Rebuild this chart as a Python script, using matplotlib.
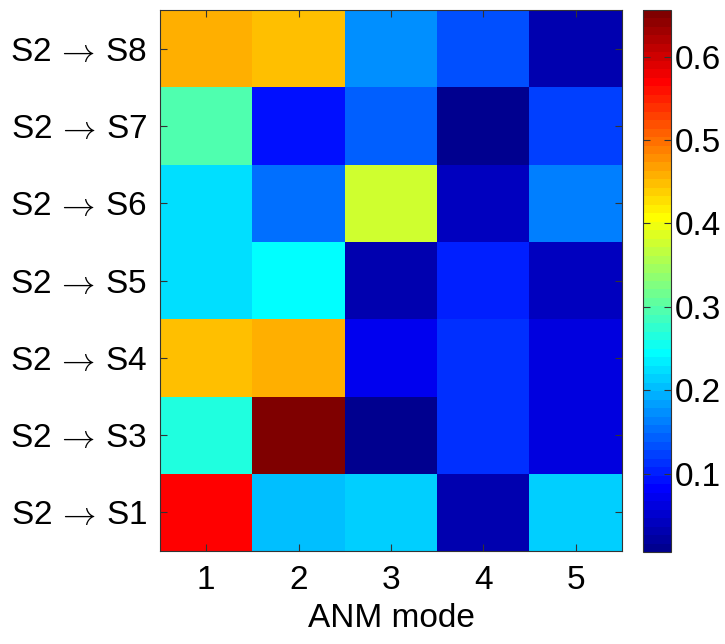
import numpy as np
import matplotlib
matplotlib.use("Agg")
import matplotlib.pyplot as plt
from matplotlib.colors import ListedColormap

plt.rcParams['font.family'] = ['Liberation Sans', 'DejaVu Sans']
plt.rcParams['mathtext.fontset'] = 'cm'

modes = [1, 2, 3, 4, 5]
transitions = ["S2$\\,\\rightarrow\\,$S1", "S2$\\,\\rightarrow\\,$S3", "S2$\\,\\rightarrow\\,$S4",
               "S2$\\,\\rightarrow\\,$S5", "S2$\\,\\rightarrow\\,$S6", "S2$\\,\\rightarrow\\,$S7",
               "S2$\\,\\rightarrow\\,$S8"]

# one row per transition (bottom to top), one column per ANM mode
s2_s1 = [0.569, 0.208, 0.218, 0.032, 0.218]
s2_s3 = [0.268, 0.656, 0.006, 0.110, 0.060]
s2_s4 = [0.452, 0.462, 0.077, 0.117, 0.057]
s2_s5 = [0.220, 0.248, 0.032, 0.106, 0.038]
s2_s6 = [0.220, 0.157, 0.376, 0.045, 0.160]
s2_s7 = [0.300, 0.093, 0.144, 0.013, 0.120]
s2_s8 = [0.462, 0.452, 0.176, 0.137, 0.032]

values = np.array([s2_s1, s2_s3, s2_s4, s2_s5, s2_s6, s2_s7, s2_s8])
cbar_ticks = [0.1, 0.2, 0.3, 0.4, 0.5, 0.6]


def matlab_jet(m=64):
    """Classic 64-level jet palette (piecewise-linear, as in MATLAB)."""
    n = int(np.ceil(m / 4))
    u = np.concatenate([np.arange(1, n + 1) / n, np.ones(n - 1),
                        np.arange(n, 0, -1) / n])
    g = int(np.ceil(n / 2)) - (1 if m % 4 == 1 else 0) + np.arange(1, len(u) + 1)
    r = g + n
    b = g - n
    rgb = np.zeros((m, 3))
    for ch, idx in enumerate([r, g, b]):
        keep = (idx >= 1) & (idx <= m)
        rgb[idx[keep] - 1, ch] = u[keep]
    return ListedColormap(rgb, name='jet64')


fig = plt.figure(figsize=(7.25, 6.44), dpi=100)
ax = fig.add_axes([160/725, 93/644, 462/725, 541/644])
cax = fig.add_axes([643/725, 92/644, 28/725, 542/644])

im = ax.imshow(values, cmap=matlab_jet(64), origin='lower', aspect='auto',
               interpolation='nearest',
               extent=[0.5, len(modes) + 0.5, 0.5, len(transitions) + 0.5])

fs = 24
ax.set_xticks(modes)
ax.set_xticklabels([str(m) for m in modes], fontsize=fs)
ax.set_yticks(np.arange(1, len(transitions) + 1))
ax.set_yticklabels(transitions, fontsize=fs)
ax.tick_params(direction='in', top=True, right=True, length=5, width=0.8,
               color='#333333')
ax.tick_params(axis='x', pad=10)
ax.tick_params(axis='y', pad=9)
ax.set_xlabel("ANM mode", fontsize=fs, labelpad=5)
for s in ax.spines.values():
    s.set_linewidth(0.8)
    s.set_color('#333333')

cb = fig.colorbar(im, cax=cax, ticks=cbar_ticks)
cb.ax.tick_params(direction='in', left=True, right=True, length=5, width=0.8,
                  labelsize=fs, pad=3, color='#333333')
cb.ax.set_yticklabels([f"{t:.1f}" for t in cbar_ticks])
cb.outline.set_linewidth(0.8)
cb.outline.set_edgecolor('#333333')

fig.savefig("out.png", dpi=100)
